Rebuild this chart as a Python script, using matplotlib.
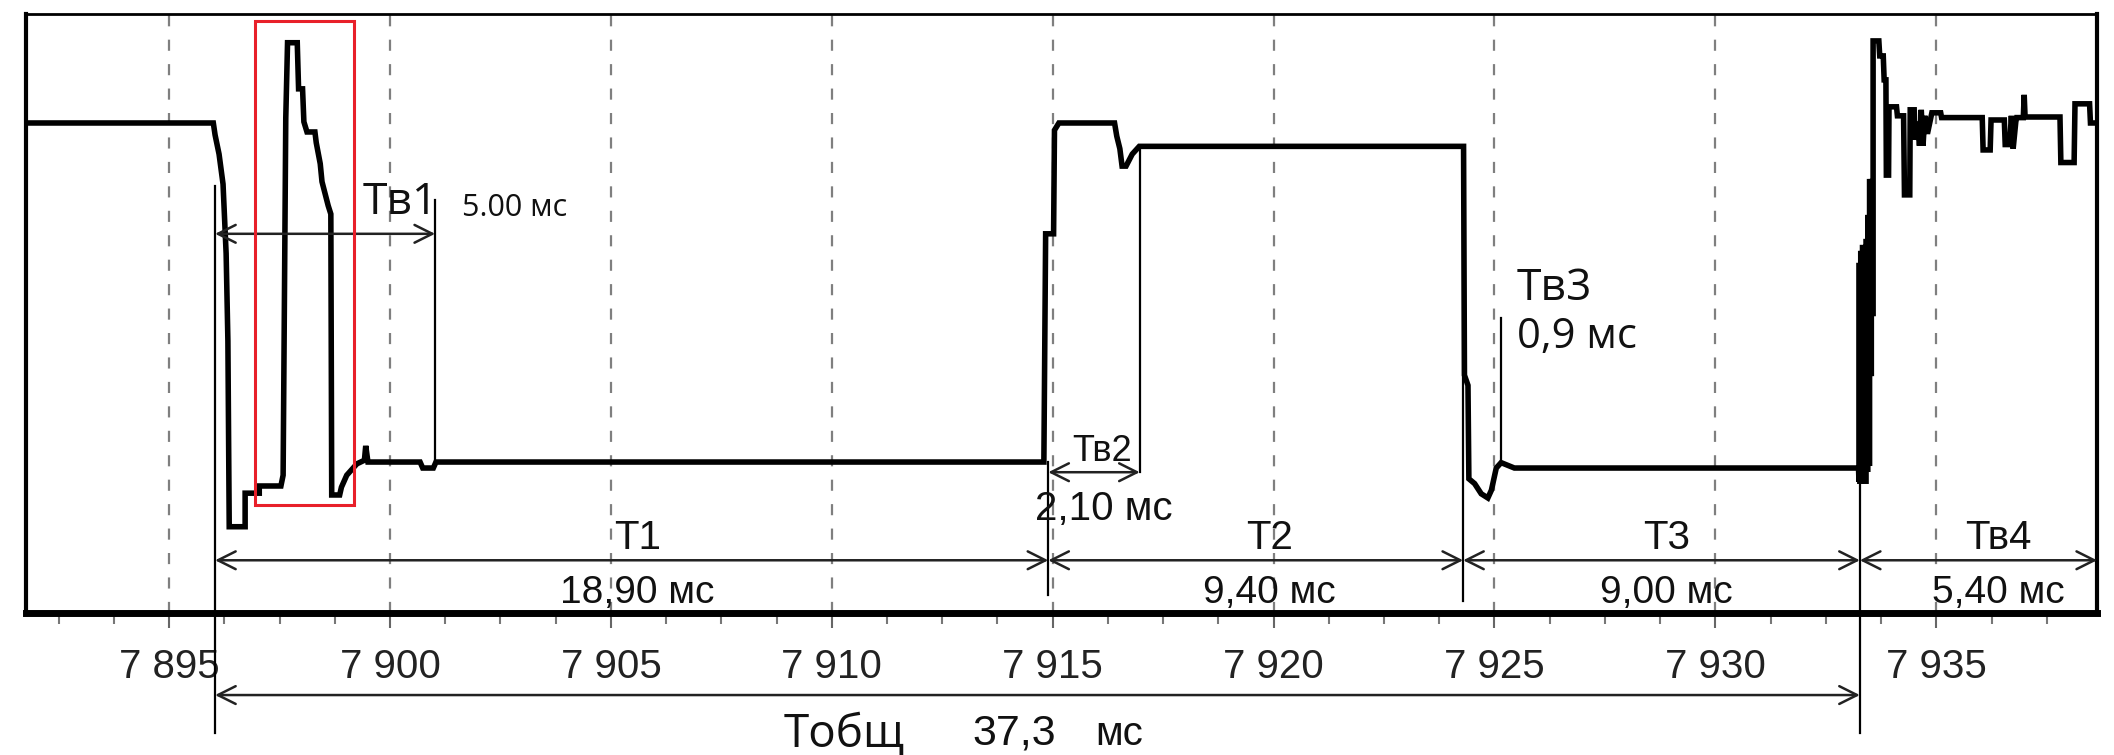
import matplotlib.pyplot as plt
from matplotlib.ticker import MultipleLocator

# время, мс и уровень сигнала (отн. ед., 0..100 = высота поля)
t_sig = [7891.76, 7896.00, 7896.04, 7896.13, 7896.22, 7896.29, 7896.33, 7896.36,
         7896.72, 7896.72, 7897.04, 7897.04, 7897.53, 7897.58, 7897.64, 7897.68,
         7897.90, 7897.93, 7898.02, 7898.05, 7898.12, 7898.30, 7898.33, 7898.42,
         7898.46, 7898.60, 7898.66, 7898.68, 7898.86, 7898.90, 7899.02, 7899.25,
         7899.42, 7899.45, 7899.50, 7900.68, 7900.74, 7900.98, 7901.04,
         7914.80, 7914.84, 7915.02, 7915.04, 7915.14, 7916.40, 7916.45, 7916.52,
         7916.57, 7916.66, 7916.80, 7916.96,
         7924.30, 7924.32, 7924.40, 7924.42, 7924.55, 7924.70, 7924.85, 7924.93,
         7925.04, 7925.15, 7925.45,
         7933.24, 7933.25, 7933.25, 7933.27, 7933.27, 7933.29, 7933.29, 7933.31,
         7933.31, 7933.33, 7933.33, 7933.35, 7933.35, 7933.37, 7933.37, 7933.39,
         7933.39, 7933.41, 7933.41, 7933.43, 7933.43, 7933.45, 7933.45, 7933.47,
         7933.47, 7933.49, 7933.49, 7933.51, 7933.51, 7933.53, 7933.53, 7933.55,
         7933.55, 7933.57,
         7933.57, 7933.62, 7933.70, 7933.72, 7933.80, 7933.82, 7933.86,
         7933.87, 7933.92, 7933.93, 7934.10, 7934.12, 7934.26, 7934.28, 7934.40,
         7934.41, 7934.50, 7934.52, 7934.58, 7934.62, 7934.66, 7934.70, 7934.74,
         7934.80, 7934.90, 7935.10, 7935.12, 7936.04, 7936.06, 7936.22, 7936.24,
         7936.54, 7936.56, 7936.66, 7936.70, 7936.74, 7936.80, 7936.82, 7936.97,
         7936.99, 7937.01, 7937.80, 7937.82, 7938.12, 7938.14, 7938.47, 7938.49,
         7938.64]
v_sig = [81.8, 81.8, 79.8, 76.6, 71.6, 60.0, 45.4, 14.4,
         14.4, 20.0, 20.0, 21.2, 21.2, 23.0, 82.6, 95.2,
         95.2, 87.5, 87.5, 82.0, 80.3, 80.3, 78.5, 75.0,
         72.0, 68.0, 66.6, 19.7, 19.7, 21.0, 23.0, 24.9,
         25.5, 27.9, 25.2, 25.2, 24.2, 24.2, 25.2,
         25.2, 63.3, 63.3, 80.6, 81.8, 81.8, 79.6, 77.5,
         74.6, 74.6, 76.6, 77.9,
         77.9, 39.7, 38.0, 22.4, 21.6, 19.9, 19.2, 20.5,
         24.2, 25.1, 24.2,
         24.2, 21.9, 58.0, 58.0, 22.0, 22.0, 60.0, 60.0,
         22.5, 22.5, 61.0, 61.0, 23.0, 23.0, 60.0, 60.0,
         22.0, 22.0, 62.0, 62.0, 24.0, 24.0, 66.0, 66.0,
         25.0, 25.0, 72.0, 72.0, 40.0, 40.0, 72.0, 72.0,
         50.0, 50.0,
         95.5, 95.5, 95.5, 93.0, 93.0, 89.0, 89.0,
         73.1, 73.1, 84.5, 84.5, 83.0, 83.0, 69.8, 69.8,
         84.0, 84.0, 79.0, 82.0, 78.0, 84.0, 78.0, 83.0,
         80.0, 83.5, 83.5, 82.7, 82.7, 77.3, 77.3, 82.3,
         82.3, 78.2, 78.2, 83.0, 77.5, 82.0, 82.7, 82.7,
         86.5, 82.8, 82.8, 75.2, 75.2, 85.0, 85.0, 81.8,
         81.8]

# отметки времени (начало/конец интервалов), мс
t_start = 7896.04
t_tv1_end = 7901.02
t_t1_end = 7914.90
t_tv2_end = 7916.97
t_t2_end = 7924.29
t_tv3 = 7925.15
t_t3_end = 7933.27
t_right = 7938.64

x_ticks = [7895, 7900, 7905, 7910, 7915, 7920, 7925, 7930, 7935]
x_labels = ["7 895", "7 900", "7 905", "7 910", "7 915", "7 920", "7 925", "7 930", "7 935"]

intervals = [("T1", "18,90 мс", t_start, t_t1_end, 7905.6),
             ("T2", "9,40 мс", t_t1_end, t_t2_end, 7919.9),
             ("T3", "9,00 мс", t_t2_end, t_t3_end, 7928.9),
             ("Тв4", "5,40 мс", t_t3_end, t_right, 7936.4)]

arial = "Liberation Sans"
myriad = "Open Sans"
ink = "#111111"

fig = plt.figure(figsize=(21.14, 7.55), dpi=100)
ax = fig.add_axes([0.0123, 0.1881, 0.9797, 0.7934])
ax.set_xlim(7891.76, t_right)
ax.set_ylim(0, 100)

ax.plot(t_sig, v_sig, color="black", lw=4, solid_joinstyle="miter", zorder=3)

# рамка
ax.spines["left"].set_linewidth(3)
ax.spines["right"].set_linewidth(3)
ax.spines["top"].set_linewidth(2)
ax.spines["bottom"].set_linewidth(5)
ax.set_yticks([])

ax.set_xticks(x_ticks)
ax.set_xticklabels(x_labels, fontfamily=arial, fontsize=29, color="#222222")
ax.xaxis.set_minor_locator(MultipleLocator(1.25))
ax.tick_params(axis="x", which="major", direction="out", length=11, width=1.5,
               color="#666666", pad=14)
ax.tick_params(axis="x", which="minor", direction="out", length=8, width=1.5,
               color="#777777")
ax.grid(axis="x", which="major", color="#7f7f7f", lw=1.6, linestyle=(0, (5, 6)), zorder=1)

# красная рамка вокруг второго всплеска
ax.add_patch(plt.Rectangle((7896.95, 18.0), 2.24, 80.8, fill=False,
                           edgecolor="#e8202a", lw=2.2, zorder=4))

def vline(t, v1, v2):
    ax.plot([t, t], [v1, v2], color="black", lw=1.6, clip_on=False, zorder=2)

def arrow(t1, t2, v):
    ax.annotate("", xy=(t2, v), xytext=(t1, v), annotation_clip=False,
                arrowprops=dict(arrowstyle="<->", lw=1.8, color="#222222",
                                shrinkA=0, shrinkB=0, mutation_scale=32))

# Тв1
vline(t_start, 71.3, -20.0)
vline(t_tv1_end, 68.9, 24.9)
arrow(t_start, t_tv1_end, 63.3)
ax.text(7899.37, 66.6, "Тв1", fontfamily=myriad, fontsize=32, color=ink, va="baseline")
ax.text(7901.63, 66.3, "5.00 мс", fontfamily=myriad, fontsize=22, color=ink, va="baseline")

# Тв2
vline(t_t1_end, 25.2, 3.0)
vline(t_tv2_end, 77.9, 23.5)
arrow(t_t1_end, t_tv2_end, 23.5)
ax.text(7916.12, 24.0, "Тв2", fontfamily=arial, fontsize=26, color=ink, ha="center", va="bottom")
ax.text(7916.16, 20.6, "2,10 мс", fontfamily=arial, fontsize=29, color=ink, ha="center", va="top")

# Тв3
vline(t_t2_end, 77.9, 2.0)
vline(t_tv3, 49.2, 24.9)
ax.text(7925.50, 52.3, "Тв3", fontfamily=myriad, fontsize=32, color=ink, va="baseline")
ax.text(7925.50, 44.2, "0,9 мс", fontfamily=myriad, fontsize=30, color=ink, va="baseline")

# интервалы T1..Тв4
vline(t_t3_end, 21.9, -20.0)
for name, dur, a, b, tc in intervals:
    arrow(a, b, 8.8)
    ax.text(tc, 9.4, name, fontfamily=arial, fontsize=29, color=ink, ha="center", va="bottom")
    ax.text(tc, 0.4, dur, fontfamily=arial, fontsize=28, color=ink, ha="center", va="bottom")

# общее время
arrow(t_start, t_t3_end, -13.7)
ax.text(7908.90, -22.4, "Тобщ", fontfamily=myriad, fontsize=33, color=ink, va="baseline")
ax.text(7913.18, -22.0, "37,3", fontfamily=arial, fontsize=31, color=ink, va="baseline")
ax.text(7915.96, -22.0, "мс", fontfamily=arial, fontsize=29, color=ink, va="baseline")

fig.savefig("out.png", dpi=100)
